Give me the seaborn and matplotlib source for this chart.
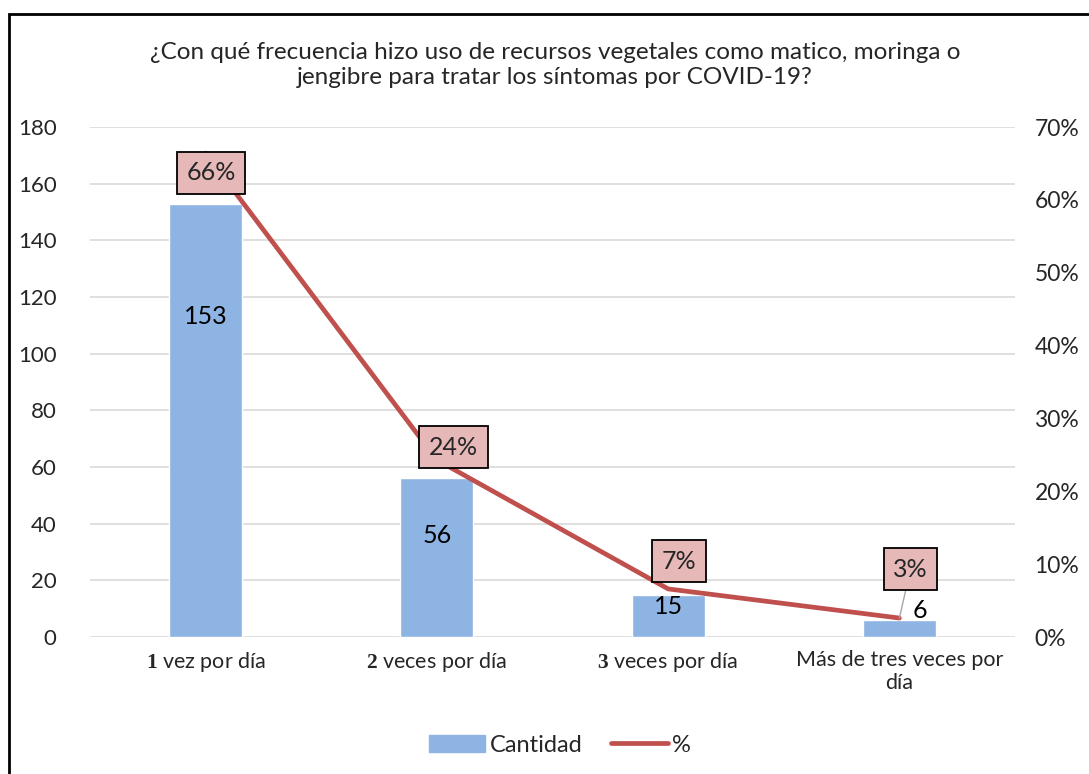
import numpy as np
import pandas as pd
import matplotlib.pyplot as plt
import seaborn as sns
from matplotlib.patches import Rectangle, Patch
from matplotlib.lines import Line2D

# data
categorias = [r"$\mathbf{1}$ vez por día", r"$\mathbf{2}$ veces por día",
              r"$\mathbf{3}$ veces por día", "Más de tres veces por\ndía"]
cantidad = [153, 56, 15, 6]
porcentaje = [66.4, 24.3, 6.6, 2.6]

titulo = ("¿Con qué frecuencia hizo uso de recursos vegetales como matico, moringa o\n"
          "jengibre para tratar los síntomas por COVID-19?")

sns.set_style("white")
plt.rcParams["font.family"] = ["Lato", "DejaVu Sans"]
plt.rcParams["mathtext.fontset"] = "custom"
plt.rcParams["mathtext.bf"] = "Liberation Serif:bold"

fig = plt.figure(figsize=(10.89, 7.74), dpi=100)
ax = fig.add_axes([90 / 1089, 1 - 637 / 774, 925 / 1089, 510 / 774])

df = pd.DataFrame({"cat": np.arange(len(cantidad)), "cantidad": cantidad, "pct": porcentaje})

sns.barplot(data=df, x="cat", y="cantidad", color="#8EB4E3", saturation=1,
            width=0.315, ax=ax, zorder=2)
ax.set_ylim(0, 180)
ax.set_yticks(range(0, 181, 20))
ax.set_xlim(-0.5, 3.5)
ax.set_xticks(range(len(categorias)))
ax.set_xticklabels(categorias, fontsize=15.5)
ax.set_xlabel("")
ax.set_ylabel("")
ax.grid(axis="y", color="#D9D9D9", linewidth=1.2, zorder=0)
ax.set_axisbelow(True)
for s in ax.spines.values():
    s.set_visible(False)
ax.tick_params(axis="y", length=0, pad=24, labelsize=16)
ax.tick_params(axis="x", length=0, pad=9)

ax2 = ax.twinx()
sns.lineplot(data=df, x="cat", y="pct", color="#C0504D", linewidth=3.4, ax=ax2,
             zorder=3, solid_capstyle="round")
ax2.set_ylim(0, 70)
ax2.set_yticks(range(0, 71, 10))
ax2.set_yticklabels([f"{v}%" for v in range(0, 71, 10)])
ax2.set_ylabel("")
ax2.set_xlim(-0.5, 3.5)
for s in ax2.spines.values():
    s.set_visible(False)
ax2.tick_params(axis="y", length=0, pad=14, labelsize=16.5)

# bar labels
bar_off = [(0, -81), (0, -41), (0, -9), (15, 7)]
for i, v in enumerate(cantidad):
    ax.annotate(str(v), (i, v), xytext=bar_off[i], textcoords="offset points",
                ha="center", va="center", fontsize=18, color="black", zorder=5)

# percentage labels
pct_off = [(4, -14), (12, 9), (8, 20), (8, 35)]
for i, p in enumerate(porcentaje):
    arrow = dict(arrowstyle="-", color="#A6A6A6", lw=1, shrinkA=0, shrinkB=0) if i == 3 else None
    ax2.annotate(f"{p:.0f}%", (i, p), xytext=pct_off[i], textcoords="offset points",
                 ha="center", va="center", fontsize=18, zorder=6,
                 bbox=dict(boxstyle="square,pad=0.38", fc="#E6B9B8", ec="black", lw=1.3),
                 arrowprops=arrow)

fig.text(555 / 1089, 1 - 65 / 774, titulo, ha="center", va="center",
         fontsize=17.5, linespacing=1.2)

handles = [Patch(color="#8EB4E3"), Line2D([], [], color="#C0504D", linewidth=3.4)]
fig.legend(handles, ["Cantidad", "%"], loc="center", ncol=2, frameon=False,
           bbox_to_anchor=(560 / 1089, 1 - 745 / 774), fontsize=17,
           handlelength=2.4, handletextpad=0.2, columnspacing=1.2)

fig.patches.append(Rectangle((9 / 1089, -0.1), 1.2, 1.1 - 14 / 774, transform=fig.transFigure,
                             fill=False, ec="black", lw=2))

fig.savefig("out.png", dpi=100)
